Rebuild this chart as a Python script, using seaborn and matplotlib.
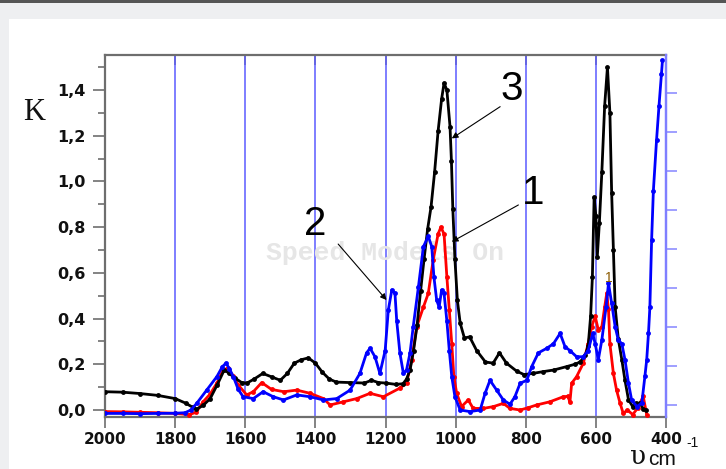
import numpy as np
import pandas as pd
import matplotlib
matplotlib.use("Agg")
import matplotlib.pyplot as plt
from matplotlib.ticker import FuncFormatter, MultipleLocator
from matplotlib.patches import Rectangle
import seaborn as sns

# ---------------- data ----------------
x_black = [2000, 1950, 1900, 1850, 1800, 1770, 1750, 1740, 1720, 1700, 1680, 1660, 1645, 1630,
           1610, 1595, 1575, 1550, 1525, 1500, 1480, 1460, 1440, 1420, 1400, 1380, 1360, 1340,
           1300, 1260, 1240, 1220, 1200, 1170, 1150, 1140, 1130, 1120, 1110, 1100, 1090, 1080,
           1070, 1060, 1050, 1040, 1033, 1025, 1016, 1012, 1008, 1002, 995, 987, 975, 960, 940,
           915, 893, 875, 855, 826, 805, 780, 750, 720, 683, 660, 645, 630, 622, 615, 610, 605,
           600, 596, 590, 583, 575, 567, 560, 555, 550, 545, 536, 526, 517, 507, 495, 485, 474,
           465, 458]
y_black = [0.08, 0.078, 0.072, 0.064, 0.05, 0.03, 0.012, 0.003, 0.02, 0.05, 0.11, 0.175, 0.16, 0.14,
           0.12, 0.118, 0.135, 0.16, 0.145, 0.13, 0.16, 0.205, 0.22, 0.228, 0.205, 0.165, 0.135, 0.122,
           0.12, 0.118, 0.13, 0.12, 0.118, 0.112, 0.115, 0.135, 0.175, 0.26, 0.37, 0.52, 0.66, 0.79,
           0.89, 1.04, 1.22, 1.36, 1.43, 1.40, 1.24, 1.09, 0.88, 0.66, 0.48, 0.38, 0.315, 0.32, 0.26,
           0.21, 0.205, 0.25, 0.205, 0.17, 0.155, 0.16, 0.168, 0.175, 0.19, 0.2, 0.21, 0.24, 0.28, 0.41, 0.58, 0.93,
           0.85, 0.67, 0.82, 1.04, 1.33, 1.50, 1.30, 0.95, 0.70, 0.45, 0.31, 0.22, 0.13, 0.045, 0.015, 0.03, 0.03,
           0.005, 0.0]

x_red = [2000, 1950, 1900, 1850, 1800, 1760, 1740, 1720, 1700, 1680, 1663, 1650, 1635, 1620, 1596,
         1577, 1553, 1525, 1490, 1453, 1415, 1377, 1358, 1320, 1282, 1244, 1206, 1160, 1140, 1125,
         1111, 1092, 1078, 1064, 1050, 1042, 1033, 1025, 1018, 1011, 1005, 997, 983, 964, 950, 921,
         892, 864, 845, 816, 793, 769, 731, 693, 680, 674, 669, 655, 636, 622, 612, 602, 593, 583,
         575, 569, 564, 560, 550, 541, 531, 522, 510, 495, 480, 465, 455]
y_red = [-0.007, -0.008, -0.01, -0.012, -0.015, -0.02, -0.01, 0.036, 0.07, 0.12, 0.175, 0.183, 0.15, 0.11, 0.066,
         0.08, 0.12, 0.09, 0.08, 0.087, 0.073, 0.05, 0.022, 0.036, 0.05, 0.073, 0.058, 0.095, 0.117, 0.22,
         0.364, 0.45, 0.51, 0.656, 0.77, 0.80, 0.77, 0.583, 0.437, 0.29, 0.146, 0.073, 0.015, 0.044, 0.007, 0.007,
         0.015, 0.029, 0.007, 0.0, 0.01, 0.022, 0.036, 0.058, 0.06, 0.035, 0.117, 0.146, 0.204, 0.29, 0.364, 0.41, 0.35, 0.364,
         0.45, 0.51, 0.44, 0.29, 0.16, 0.087, 0.03, -0.015, 0.0, -0.02, 0.01, 0.06, -0.02]

x_blue = [2000, 1950, 1900, 1850, 1800, 1772, 1755, 1738, 1710, 1681, 1665, 1655, 1645, 1634, 1620,
          1606, 1577, 1549, 1520, 1491, 1453, 1415, 1377, 1339, 1301, 1273, 1254, 1244, 1230, 1216,
          1201, 1192, 1182, 1173, 1168, 1159, 1149, 1140, 1130, 1121, 1106, 1092, 1078, 1068, 1062,
          1054, 1047, 1040, 1033, 1025, 1018, 1011, 1002, 987, 959, 930, 916, 902, 883, 864, 845, 831,
          816, 797, 783, 764, 740, 721, 702, 688, 674, 655, 636, 622, 609, 602, 593, 583, 571, 564,
          555, 545, 536, 526, 517, 507, 498, 483, 469, 460, 455, 450, 446, 441, 436, 427, 420, 413, 410]
y_blue = [-0.015, -0.015, -0.016, -0.015, -0.014, -0.012, 0.0, 0.03, 0.087, 0.146, 0.19, 0.205, 0.18, 0.146, 0.09,
          0.058, 0.05, 0.08, 0.058, 0.044, 0.066, 0.058, 0.044, 0.05, 0.087, 0.16, 0.25, 0.27, 0.233, 0.16,
          0.26, 0.437, 0.525, 0.51, 0.39, 0.25, 0.16, 0.175, 0.25, 0.364, 0.54, 0.714, 0.76, 0.714, 0.583,
          0.48, 0.45, 0.525, 0.51, 0.39, 0.26, 0.146, 0.058, 0.0, -0.007, 0.0, 0.073, 0.13, 0.087, 0.044, 0.025, 0.058,
          0.117, 0.13, 0.19, 0.25, 0.27, 0.29, 0.335, 0.277, 0.26, 0.233, 0.233, 0.26, 0.335, 0.29, 0.22, 0.306, 0.45, 0.554,
          0.467, 0.364, 0.306, 0.29, 0.22, 0.117, 0.044, 0.015, 0.03, 0.15, 0.22, 0.335, 0.45, 0.744, 0.96, 1.18, 1.33, 1.47, 1.53]

x_ticks = [2000, 1800, 1600, 1400, 1200, 1000, 800, 600, 400]
y_ticks = [0.0, 0.2, 0.4, 0.6, 0.8, 1.0, 1.2, 1.4]
grid_x = [1800, 1600, 1400, 1200, 1000, 800, 600]
right_ticks = [0.022, 0.193, 0.363, 0.534, 0.704, 0.875, 1.046, 1.216, 1.387]

labels = ["1", "2", "3"]
label_pos = [(779, 0.951), (1401, 0.812), (840, 1.404)]
arrow_tips = [(1011, 0.736), (1197, 0.481), (1011, 1.188)]
arrow_tails = [(821, 0.897), (1335, 0.726), (873, 1.327)]

# ---------------- figure ----------------
sns.set_style("white")
plt.rcParams['font.family'] = ['DejaVu Sans']

fig = plt.figure(figsize=(7.26, 4.69), dpi=100)
fig.patch.set_facecolor("#eeeff1")
fig.add_artist(Rectangle((9/726, 0), 1, 1 - 19/469, transform=fig.transFigure,
                         facecolor="white", edgecolor="none", zorder=0))
fig.add_artist(Rectangle((0, 1 - 3/469), 1, 3/469, transform=fig.transFigure,
                         facecolor="#555555", edgecolor="none", zorder=0))

ax = fig.add_axes([105/726, 1 - 417/469, 561/726, 362/469])
ax.set_facecolor("white")

for gx in grid_x:
    ax.axvline(gx, color="#5b5bff", lw=1.1, zorder=1)

ax.text(1201, 0.688, "Speed Models On", ha="center", va="center",
        fontfamily="Liberation Mono", fontweight="bold", fontsize=19,
        color="#e6e6e6", zorder=1.5)

df_r = pd.DataFrame({"x": x_red, "y": y_red})
df_k = pd.DataFrame({"x": x_black, "y": y_black})
df_b = pd.DataFrame({"x": x_blue, "y": y_blue})
common = dict(estimator=None, sort=False, marker="o", markersize=3.5, markeredgewidth=0,
              linewidth=2.0, legend=False)
sns.lineplot(data=df_r, x="x", y="y", color="#ff0000", ax=ax, zorder=3, **common)
sns.lineplot(data=df_k, x="x", y="y", color="#000000", ax=ax, zorder=4, **common)
sns.lineplot(data=df_b, x="x", y="y", color="#0000ff", ax=ax, zorder=5, **common)

ax.set_xlim(2000, 400)
ax.set_ylim(-0.0306, 1.553)
ax.set_xlabel("")
ax.set_ylabel("")

ax.set_xticks(x_ticks)
ax.set_yticks(y_ticks)
ax.yaxis.set_minor_locator(MultipleLocator(0.1))
ax.yaxis.set_major_formatter(FuncFormatter(lambda v, p: f"{v:.1f}".replace(".", ",")))
ax.xaxis.set_major_formatter(FuncFormatter(lambda v, p: f"{int(round(v))}"))

gray = "#6e6e6e"
for s in ["left", "bottom", "top"]:
    ax.spines[s].set_color(gray)
    ax.spines[s].set_linewidth(1.6)
ax.spines["right"].set_color("#7f7fff")
ax.spines["right"].set_linewidth(1.6)

ax.tick_params(axis="y", which="major", direction="out", length=9, width=1.2, color=gray,
               left=True, right=False, pad=5)
ax.tick_params(axis="y", which="minor", direction="out", length=5, width=1.2, color=gray,
               left=True, right=False)
ax.tick_params(axis="x", which="major", direction="out", length=8, width=1.2, color=gray,
               bottom=True, top=False, pad=3)
for lab in ax.get_yticklabels():
    lab.set_fontweight("bold")
    lab.set_fontsize(11.5)
    lab.set_fontfamily("DejaVu Sans")
    lab.set_color("#111111")
for lab in ax.get_xticklabels():
    lab.set_fontweight("bold")
    lab.set_fontsize(11)
    lab.set_fontfamily("DejaVu Sans")
    lab.set_color("#111111")

sec = ax.secondary_xaxis("top")
sec.set_xticks(x_ticks)
sec.tick_params(axis="x", direction="in", length=7, width=1.2, color=gray, labeltop=False)
sec.spines["top"].set_visible(False)

ax2 = ax.twinx()
ax2.set_ylim(ax.get_ylim())
ax2.set_yticks(right_ticks)
ax2.tick_params(axis="y", direction="out", length=8, width=1.2, color="#8f8fff", labelright=False)
for s in ["left", "bottom", "top"]:
    ax2.spines[s].set_visible(False)
ax2.spines["right"].set_color("#7f7fff")
ax2.spines["right"].set_linewidth(1.6)
ax2.grid(False)

for lab, pos, tip, tail in zip(labels, label_pos, arrow_tips, arrow_tails):
    ax.text(pos[0], pos[1], lab, ha="center", va="center", fontsize=29,
            fontfamily="Liberation Sans", color="black", zorder=6)
    ax.annotate("", xy=tip, xytext=tail,
                arrowprops=dict(arrowstyle="-|>", lw=0.8, color="black", mutation_scale=9,
                                shrinkA=0, shrinkB=0), zorder=6)
ax.text(562, 0.576, "1", ha="center", va="center", fontsize=10, color="#8b5a00",
        fontfamily="Liberation Sans", zorder=6)

fig.text(34/726, 1 - 113/469, "K", ha="center", va="center", fontsize=22,
         fontfamily="Liberation Serif", color="#111111")
fig.text(630/726, 0.5/469, "υ", ha="left", va="bottom", fontsize=19,
         fontfamily="DejaVu Serif", color="#111111")
fig.text(648/726, 0.5/469, "cm", ha="left", va="bottom", fontsize=15,
         fontfamily="Liberation Sans", color="#111111")
fig.text(686/726, 1 - 447/469, "-1", ha="left", va="baseline", fontsize=10,
         fontfamily="Liberation Sans", color="#111111")

fig.savefig("out.png", dpi=100, facecolor=fig.get_facecolor())
